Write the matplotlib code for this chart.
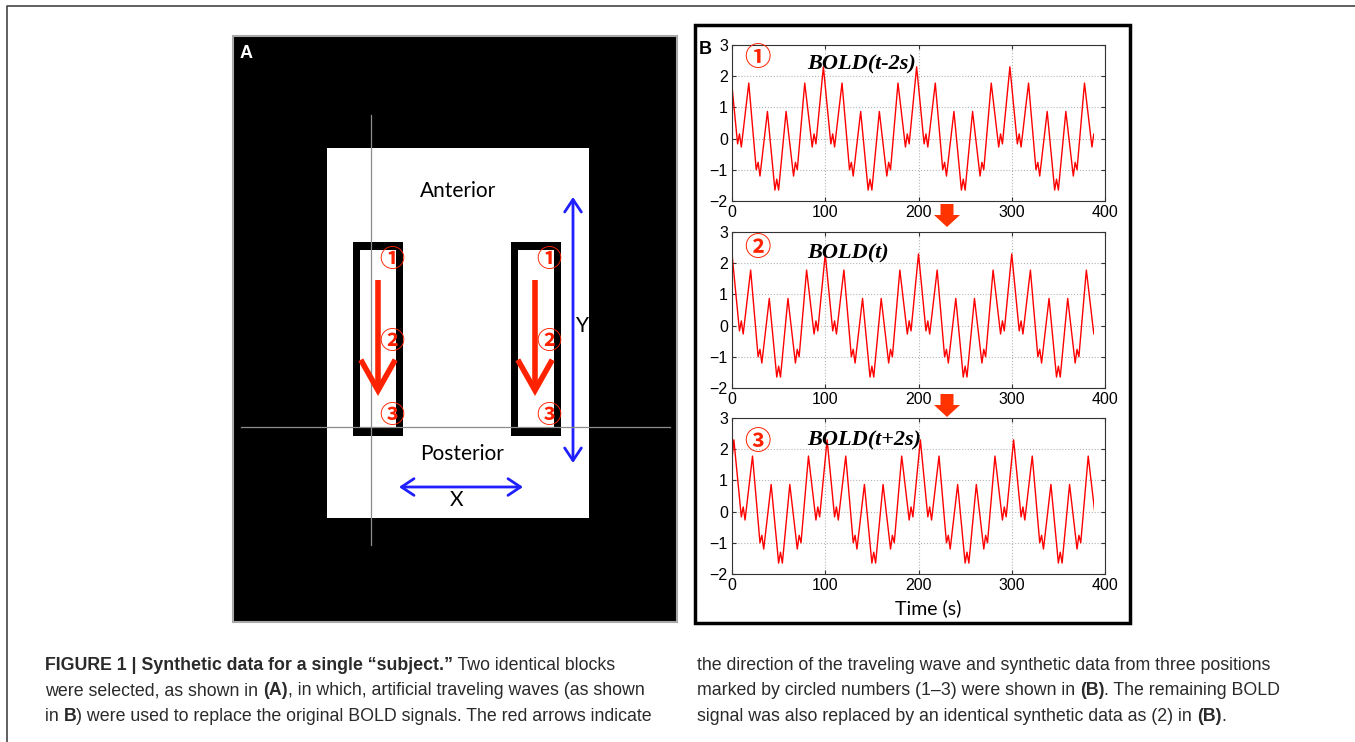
import matplotlib.pyplot as plt
from matplotlib.patches import Rectangle, FancyArrow, FancyArrowPatch

# BOLD(t) wave, vertices (seconds, a.u.)
bold_t = [-8,
          0, 8, 10, 12, 20, 28, 30, 32, 40, 48, 50, 52, 60, 68, 70, 72, 80, 88, 90, 92,
          100, 108, 110, 112, 120, 128, 130, 132, 140, 148, 150, 152, 160, 168, 170, 172, 180, 188, 190, 192,
          200, 208, 210, 212, 220, 228, 230, 232, 240, 248, 250, 252, 260, 268, 270, 272, 280, 288, 290, 292,
          300, 308, 310, 312, 320, 328, 330, 332, 340, 348, 350, 352, 360, 368, 370, 372, 380, 388, 390, 392]
bold_v = [-0.17,
          2.30, -0.17, 0.15, -0.27, 1.78, -1.00, -0.76, -1.20, 0.87, -1.65, -1.30, -1.65, 0.87, -1.20, -0.76, -1.00, 1.78, -0.27, 0.15, -0.17,
          2.30, -0.17, 0.15, -0.27, 1.78, -1.00, -0.76, -1.20, 0.87, -1.65, -1.30, -1.65, 0.87, -1.20, -0.76, -1.00, 1.78, -0.27, 0.15, -0.17,
          2.30, -0.17, 0.15, -0.27, 1.78, -1.00, -0.76, -1.20, 0.87, -1.65, -1.30, -1.65, 0.87, -1.20, -0.76, -1.00, 1.78, -0.27, 0.15, -0.17,
          2.30, -0.17, 0.15, -0.27, 1.78, -1.00, -0.76, -1.20, 0.87, -1.65, -1.30, -1.65, 0.87, -1.20, -0.76, -1.00, 1.78, -0.27, 0.15, -0.17]
t_end = 388
panel_shifts = [-2, 0, 2]
panel_labels = ["BOLD(t-2s)", "BOLD(t)", "BOLD(t+2s)"]
circled = ["①", "②", "③"]
xticks = [0, 100, 200, 300, 400]
yticks = [-2, -1, 0, 1, 2, 3]

W, H = 1355, 742
fig = plt.figure(figsize=(W / 100, H / 100), dpi=100)
bg = fig.add_axes([0, 0, 1, 1])
bg.set_xlim(0, W)
bg.set_ylim(H, 0)
bg.axis("off")

CJK = ["Noto Sans CJK SC", "DejaVu Sans"]
RED = "#ff2200"
BLUE = "#1f1fff"

# page frame
bg.plot([7, 7, W], [H, 6, 6], color="#444444", lw=1.2)

# ---- panel A (schematic) ----
bg.add_patch(Rectangle((233, 36), 444, 586, fc="black", ec="#a8a8a8", lw=1.5))
bg.add_patch(Rectangle((327, 148), 262, 370, fc="white", ec="none"))
for x0 in [353, 511]:
    bg.add_patch(Rectangle((x0, 242), 50, 194, fc="black", ec="none", zorder=2))
    bg.add_patch(Rectangle((x0 + 7, 250), 36, 178, fc="white", ec="none", zorder=2))
bg.plot([371, 371], [115, 545], color="#8c8c8c", lw=0.9, zorder=3)
bg.plot([241, 670], [427, 427], color="#8c8c8c", lw=0.9, zorder=3)

for xa in [378, 535]:
    bg.add_patch(FancyArrowPatch((xa, 280), (xa, 396), arrowstyle="->,head_length=1.1,head_width=0.62",
                                 mutation_scale=20, lw=4, color=RED, shrinkA=0, shrinkB=0,
                                 joinstyle="miter", capstyle="butt", zorder=4))
    for lab, yc in zip(circled, [260, 342, 416]):
        bg.text(xa + 14, yc, lab, color=RED, fontsize=18, fontweight="bold", family=CJK,
                ha="center", va="center", zorder=5)

bg.text(458, 191, "Anterior", family="Lato", fontsize=15, ha="center", va="center")
bg.text(462, 454, "Posterior", family="Lato", fontsize=15, ha="center", va="center")
bg.add_patch(FancyArrowPatch((573, 197), (573, 463), arrowstyle="<->,head_length=0.45,head_width=0.3",
                             mutation_scale=20, lw=2, color=BLUE, shrinkA=0, shrinkB=0))
bg.add_patch(FancyArrowPatch((399, 487), (523, 487), arrowstyle="<->,head_length=0.45,head_width=0.3",
                             mutation_scale=20, lw=2, color=BLUE, shrinkA=0, shrinkB=0))
bg.text(576, 326, "Y", family="Lato", fontsize=15, ha="left", va="center")
bg.text(457, 500, "X", family="Lato", fontsize=15, ha="center", va="center")
bg.text(240, 54, "A", color="white", fontweight="bold", family="Liberation Sans", fontsize=13, va="center")

# ---- panel B ----
bg.add_patch(Rectangle((695, 25), 435, 598, fill=False, ec="black", lw=2.5))
bg.text(699, 50, "B", fontweight="bold", family="Liberation Sans", fontsize=13, va="center")
for ya in [204, 394]:
    bg.add_patch(FancyArrow(947, ya, 0, 23, width=13, head_width=26, head_length=12,
                            length_includes_head=True, color="#ff3300", ec="none"))

ax_tops = [45, 232, 418]
ax_h = 156
circ_off = [13, 16, 24]
lab_off = [24, 26, 27]
for i, top in enumerate(ax_tops):
    ax = fig.add_axes([732 / W, 1 - (top + ax_h) / H, (1105 - 732) / W, ax_h / H])
    xs = [t + panel_shifts[i] for t in bold_t]
    line, = ax.plot(xs, bold_v, color="red", lw=1)
    clip = Rectangle((0, -2), t_end, 5, transform=ax.transData)
    line.set_clip_path(clip)
    ax.set_xlim(0, 400)
    ax.set_ylim(-2, 3)
    ax.set_xticks(xticks)
    ax.set_yticks(yticks)
    ax.grid(True, ls=":", color="#b5b5b5", lw=0.8)
    ax.tick_params(direction="in", length=3, labelsize=11.5, pad=3, top=True, right=True,
                   color="#333333")
    for lbl in ax.get_xticklabels() + ax.get_yticklabels():
        lbl.set_family("Liberation Sans")
    for sp in ax.spines.values():
        sp.set_color("#333333")
        sp.set_linewidth(0.8)
    ax.text(25 / 373, 1 - circ_off[i] / ax_h, circled[i], transform=ax.transAxes, color=RED,
            fontsize=19, fontweight="bold", family=CJK, ha="center", va="center")
    ax.text(75 / 373, 1 - lab_off[i] / ax_h, panel_labels[i], transform=ax.transAxes,
            family="Liberation Serif", fontweight="bold", style="italic", fontsize=16,
            ha="left", va="baseline")

fig.text(928 / W, 1 - 608 / H, "Time (s)", family="Lato", fontsize=14, ha="center", va="center")

# ---- caption ----
cap_kw = dict(family="Liberation Sans", fontsize=12.8, color="#2a2a2a")


def rich_line(x, y, parts):
    t = bg.text(x, y, parts[0][0], fontweight=parts[0][1], va="bottom", ha="left", **cap_kw)
    for s, w in parts[1:]:
        t = bg.annotate(s, xy=(1, 0), xycoords=t, va="bottom", ha="left", fontweight=w, **cap_kw)


left_lines = [
    [("FIGURE 1 | Synthetic data for a single \u201csubject.\u201d", "bold"), (" Two identical blocks", "normal")],
    [("were selected, as shown in ", "normal"), ("(A)", "bold"),
     (", in which, artificial traveling waves (as shown", "normal")],
    [("in ", "normal"), ("B", "bold"), (") were used to replace the original BOLD signals. The red arrows indicate", "normal")],
]
right_lines = [
    [("the direction of the traveling wave and synthetic data from three positions", "normal")],
    [("marked by circled numbers (1\u20133) were shown in ", "normal"), ("(B)", "bold"),
     (". The remaining BOLD", "normal")],
    [("signal was also replaced by an identical synthetic data as (2) in ", "normal"), ("(B)", "bold"),
     (".", "normal")],
]
for k, yb in enumerate([674, 699, 725]):
    rich_line(45, yb, left_lines[k])
    rich_line(697, yb, right_lines[k])

fig.savefig("out.png", dpi=100)
